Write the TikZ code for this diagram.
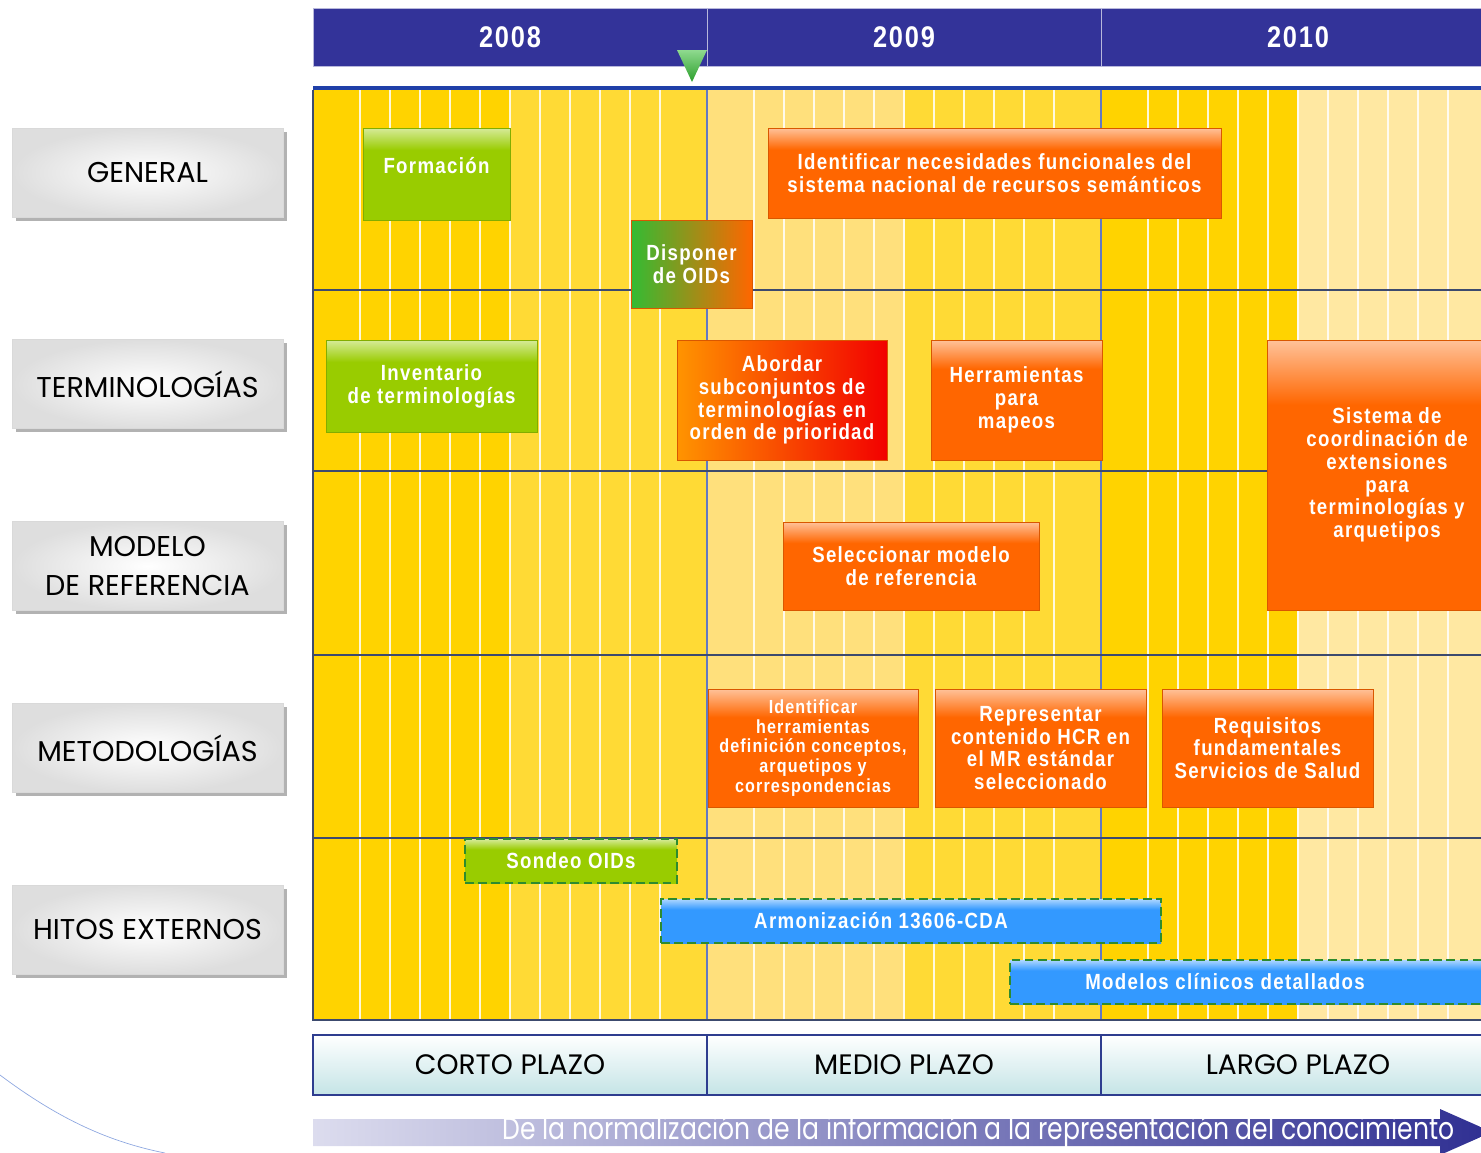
\documentclass[tikz,border=0pt]{standalone}
\usepackage{fontspec}
\setmainfont{Liberation Sans}
\newfontfamily\gothic{Poppins}
\newfontfamily\gothicnarrow[FakeStretch=0.815]{Poppins}
\newfontfamily\narrow[FakeStretch=0.85,LetterSpace=6]{Liberation Sans}
\usetikzlibrary{
	positioning,shadows
}
\definecolor{yearblue}{HTML}{333399}
\definecolor{ydark}{HTML}{FFD300}
\definecolor{ymed}{HTML}{FFDA35}
\definecolor{ylight}{HTML}{FFE07C}
\definecolor{ypale}{HTML}{FFE8A2}
\definecolor{gridline}{HTML}{3C4A6E}
\definecolor{taskorange}{HTML}{FF6600}
\definecolor{taskgreen}{HTML}{99CC00}
\definecolor{taskblue}{HTML}{3399FF}
\definecolor{dashgreen}{HTML}{2E8B2E}
\definecolor{topline}{HTML}{1F3FA8}
\definecolor{mgreen}{HTML}{33BB33}
\definecolor{plazoblue}{HTML}{2E3D8F}
\definecolor{plazocyan}{HTML}{C4E4E6}
\definecolor{arrowblue}{HTML}{2F2F92}
\definecolor{arrowpale}{HTML}{DCDCEE}
\definecolor{arcblue}{HTML}{8FA8E0}
\colorlet{tskc}{taskorange}
\pgfdeclareverticalshading[tskc]{taskshade}{100bp}{color(0bp)=(tskc); color(25bp)=(tskc); color(63bp)=(tskc); color(75bp)=(tskc!40!white); color(100bp)=(tskc!40!white)}
\tikzset{
	boxsize/.style 2 args={
		minimum width=#1*0.02cm, minimum height=#2*0.02cm
	},
	%
	task/.style={
		rectangle, inner sep=0pt, align=center, text=white,
		font=\narrow\bfseries\fontsize{12.5}{13}\selectfont,
		/utils/exec={\colorlet{tskc}{#1}}, shade, shading=taskshade,
		draw=#1!85!black, thin
	},
	%
	hito/.style={
		task=#1, draw=dashgreen, dash pattern=on 5pt off 2.5pt, semithick
	},
	%
	rowlabel/.style={
		rectangle, inner sep=0pt, align=center, boxsize={271}{89},
		inner color=white, outer color=gray!26, draw=gray!30, thin,
		drop shadow={shadow xshift=2pt, shadow yshift=-2pt, fill=gray!60, opacity=1},
		font=\gothic\fontsize{16.3}{22}\selectfont
	},
	%
	yearhead/.style={
		rectangle, inner sep=0pt, boxsize={394}{58}, fill=yearblue, draw=white!65!yearblue, thin,
		text=white, font=\narrow\bfseries\fontsize{17}{17}\selectfont
	},
	%
	plazo/.style={
		rectangle, inner sep=0pt, boxsize={394}{60}, top color=white, bottom color=plazocyan,
		draw=plazoblue, thick, font=\gothic\fontsize{16}{16}\selectfont
	},
	%
	monthline/.style={white, line width=0.9pt, opacity=0.85},
	rowline/.style={gridline, line width=1pt},
	yearline/.style={topline!70!white, line width=0.6pt}
}

\begin{document}
\begin{tikzpicture}[x=0.02cm, y=-0.02cm]
    \useasboundingbox (0,0) rectangle (1481,1153);
    \clip (0,0) rectangle (1481,1153);
    % background stripes
    \fill[ydark] (313,90) rectangle (510,1020);
    \fill[ymed] (510,90) rectangle (707,1020);
    \fill[ylight] (707,90) rectangle (905,1020);
    \fill[ymed] (905,90) rectangle (1101,1020);
    \fill[ydark] (1101,90) rectangle (1297,1020);
    \fill[ypale] (1297,90) rectangle (1495,1020);
    \foreach \yr in {313,707,1101}
        \foreach \k in {0,...,10}
            \draw[monthline] ({\yr+47+30*\k},90) -- ++(0,930);
    \draw[yearline] (707,90) -- (707,1020);
    \draw[yearline] (1101,90) -- (1101,1020);
    \foreach \ry in {290,471,655,838}
        \draw[rowline] (313,\ry) -- (1495,\ry);
    \draw[rowline] (313,90) -- (313,1020) -- (1495,1020);
    \draw[topline, line width=2.2pt] (313,88) -- (1495,88);
    % years
    \node(y2008)[yearhead] at (510,37){2008};
    \node(y2009)[yearhead] at (904,37){2009};
    \node(y2010)[yearhead] at (1298,37){2010};
    \shade[top color=mgreen!55!white, bottom color=mgreen!85!black] (677,50) -- (707,50) -- (692,82) -- cycle;
    % rows
    \node(general)[rowlabel] at (147.5,172.5){GENERAL};
    \node(terminologias)[rowlabel] at (147.5,384){TERMINOLOGÍAS};
    \node(modelo)[rowlabel] at (147.5,566){MODELO\\DE REFERENCIA};
    \node(metodologias)[rowlabel] at (147.5,748){METODOLOGÍAS};
    \node(hitos)[rowlabel] at (147.5,929.5){HITOS EXTERNOS};
    % tasks
    \node(formacion)[task=taskgreen, boxsize={147}{92}, text depth=10pt] at (436.5,174){Formación};
    \node(necesidades)[task=taskorange, boxsize={453}{90}] at (994.5,173){Identificar necesidades funcionales del\\sistema nacional de recursos semánticos};
    \node(oids)[task=taskorange, left color=mgreen, right color=taskorange, boxsize={121}{88}] at (691.5,264){Disponer\\de OIDs};
    \node(inventario)[task=taskgreen, boxsize={211}{92}] at (431.5,386){Inventario\\de terminologías};
    \node(abordar)[task=taskorange, left color=taskorange!70!yellow, right color=red!95!black, boxsize={210}{120}] at (782,400){Abordar\\subconjuntos de\\terminologías en\\orden de prioridad};
    \node(mapeos)[task=taskorange, boxsize={171}{120}] at (1016.5,400){Herramientas\\para\\mapeos};
    \node(coordinacion)[task=taskorange, boxsize={240}{270}] at (1387,475){Sistema de\\coordinación de\\extensiones\\para\\terminologías y\\arquetipos};
    \node(seleccionar)[task=taskorange, boxsize={256}{88}] at (911,566){Seleccionar modelo\\de referencia};
    \node(herramientas)[task=taskorange, font=\narrow\bfseries\fontsize{10.8}{11.3}\selectfont, boxsize={210}{118}] at (813,748){Identificar\\herramientas\\definición conceptos,\\arquetipos y\\correspondencias};
    \node(representar)[task=taskorange, boxsize={211}{118}] at (1040.5,748){Representar\\contenido HCR en\\el MR estándar\\seleccionado};
    \node(requisitos)[task=taskorange, boxsize={211}{118}] at (1267.5,748){Requisitos\\fundamentales\\Servicios de Salud};
    \node(sondeo)[hito=taskgreen, boxsize={212}{44}] at (571,861){Sondeo OIDs};
    \node(armonizacion)[hito=taskblue, boxsize={500}{44}] at (911,921){Armonización 13606-CDA\hspace*{1.2cm}};
    \node(modelos)[hito=taskblue, boxsize={530}{44}] at (1275,982){Modelos clínicos detallados\hspace*{2cm}};
    % plazos
    \node(corto)[plazo] at (510,1065){CORTO PLAZO};
    \node(medio)[plazo] at (904,1065){MEDIO PLAZO};
    \node(largo)[plazo] at (1298,1065){LARGO PLAZO};
    % arrow
    \shade[left color=arrowpale, right color=arrowblue] (313,1119) -- (1440,1119) -- (1440,1109) -- (1492,1132) -- (1440,1155) -- (1440,1146) -- (313,1146) -- cycle;
    \node(lema)[anchor=east, inner sep=0pt, text=white, font=\gothicnarrow\fontsize{17.5}{17.5}\selectfont] at (1455,1131){De la normalización de la información a la representación del conocimiento};
    \draw[arcblue, thin] (0,1075) .. controls (60,1120) and (110,1142) .. (165,1153);
\end{tikzpicture}
\end{document}
